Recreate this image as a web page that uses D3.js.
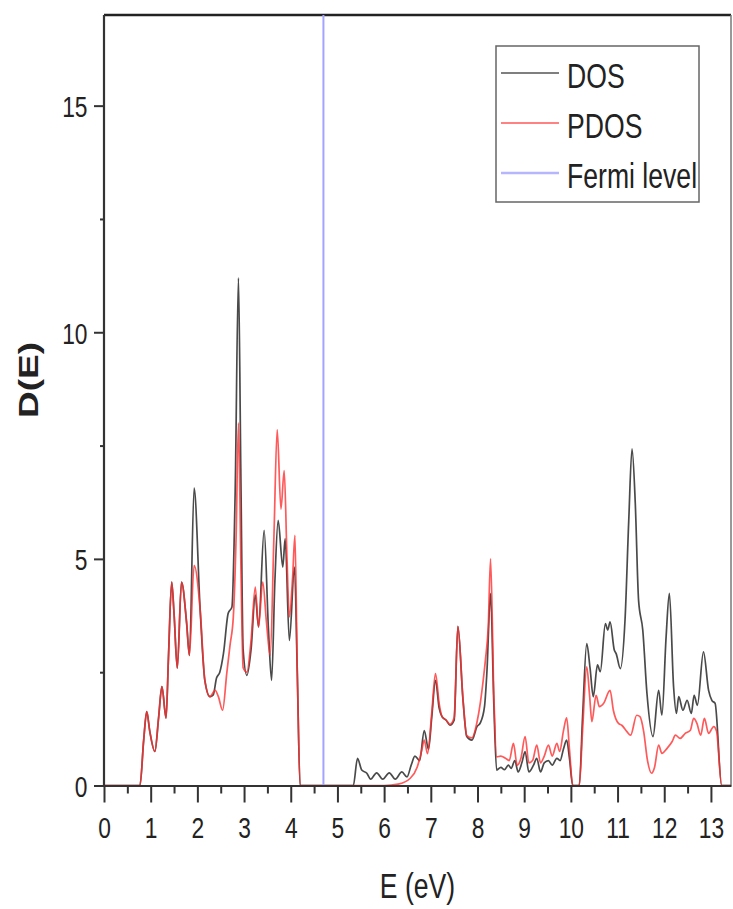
<!DOCTYPE html>
<html><head><meta charset="utf-8">
<script src="https://cdn.jsdelivr.net/npm/d3@7"></script>
<style>body{margin:0;background:#fff;} svg{display:block;}</style>
</head><body>
<script>
const dosE = [0,0.77,0.85,0.915,0.98,1.09,1.17,1.24,1.33,1.38,1.45,1.5,1.57,1.66,1.77,1.83,1.93,2.06,2.16,2.27,2.34,2.41,2.48,2.56,2.66,2.74,2.81,2.88,2.93,2.98,3.06,3.15,3.24,3.31,3.43,3.52,3.59,3.66,3.73,3.83,3.88,3.97,4.08,4.14,4.2,5.34,5.43,5.52,5.63,5.71,5.84,5.97,6.11,6.24,6.38,6.49,6.58,6.66,6.76,6.86,6.95,7.02,7.1,7.18,7.24,7.33,7.41,7.5,7.58,7.69,7.77,7.88,7.99,8.06,8.15,8.2,8.28,8.35,8.41,8.5,8.58,8.66,8.72,8.8,8.87,8.95,9.02,9.1,9.2,9.27,9.35,9.43,9.52,9.6,9.7,9.77,9.84,9.91,9.97,10.04,10.18,10.25,10.34,10.41,10.48,10.57,10.63,10.74,10.79,10.84,10.93,10.97,11.06,11.16,11.24,11.31,11.38,11.45,11.54,11.63,11.76,11.88,11.95,12.04,12.11,12.2,12.26,12.31,12.4,12.49,12.58,12.64,12.71,12.84,12.95,13.02,13.09,13.23,13.43];
const dosV = [0,0,1.0,1.63,1.2,0.75,1.5,2.18,1.49,2.8,4.49,3.8,2.59,4.49,3.58,2.87,6.56,3.87,2.32,1.96,2.0,2.37,2.5,2.92,3.8,3.94,6.5,11.2,7.0,3.0,2.43,3.0,4.2,3.5,5.63,3.5,2.32,4.5,5.85,4.82,5.45,3.2,4.82,2.5,0,0,0.6,0.34,0.27,0.14,0.28,0.14,0.28,0.14,0.3,0.19,0.45,0.65,0.55,1.21,0.8,1.5,2.32,1.7,1.52,1.44,1.33,1.44,3.51,1.88,1.08,1.0,1.3,1.38,1.74,2.47,4.24,1.8,0.34,0.4,0.35,0.45,0.38,0.55,0.3,0.5,0.75,0.3,0.45,0.6,0.3,0.5,0.55,0.45,0.6,0.55,0.8,1.0,0.6,0,0,1.5,3.13,2.6,1.96,2.66,2.51,3.57,3.43,3.61,2.99,2.91,2.58,3.65,5.85,7.43,6.22,4.09,3.43,2.03,1.08,2.1,1.55,3.28,4.24,2.18,1.59,1.96,1.66,1.88,1.59,1.99,1.77,2.95,2.1,1.88,1.81,0,0];
const pdosE = [0,0.77,0.85,0.915,0.98,1.09,1.17,1.24,1.33,1.38,1.45,1.5,1.57,1.66,1.77,1.83,1.93,2.06,2.16,2.27,2.38,2.45,2.54,2.63,2.7,2.77,2.83,2.88,2.93,2.98,3.06,3.15,3.24,3.31,3.4,3.48,3.56,3.64,3.71,3.79,3.86,3.92,3.97,4.04,4.09,4.14,4.21,6.0,6.3,6.56,6.71,6.8,6.86,6.93,7.02,7.1,7.18,7.24,7.33,7.41,7.5,7.58,7.69,7.77,7.88,7.99,8.06,8.12,8.17,8.23,8.28,8.35,8.41,8.5,8.6,8.68,8.77,8.85,8.93,9.02,9.1,9.18,9.27,9.35,9.43,9.52,9.6,9.7,9.76,9.84,9.91,9.97,10.04,10.18,10.25,10.34,10.4,10.45,10.54,10.61,10.7,10.84,10.91,11.02,11.09,11.2,11.28,11.41,11.48,11.56,11.64,11.73,11.79,11.88,11.95,12.06,12.17,12.24,12.34,12.45,12.56,12.63,12.7,12.78,12.86,12.95,13.06,13.12,13.23,13.43];
const pdosV = [0,0,1.0,1.63,1.2,0.75,1.5,2.18,1.49,2.8,4.49,3.8,2.59,4.49,3.58,2.87,4.86,3.87,2.32,1.96,2.1,1.96,1.66,2.48,3.1,3.72,5.5,8.0,5.0,2.6,2.5,3.2,4.38,3.5,4.49,3.6,2.87,5.5,7.85,6.1,6.95,5.0,3.72,4.6,5.52,2.5,0,0,0.03,0.16,0.41,0.75,1.0,0.7,1.6,2.47,1.8,1.52,1.44,1.35,1.5,3.51,1.9,1.1,1.05,1.4,1.82,2.3,2.77,3.5,5.0,2.0,0.63,0.65,0.6,0.55,0.93,0.45,0.6,1.08,0.5,0.55,0.89,0.5,0.65,0.89,0.65,0.93,0.75,1.2,1.49,0.8,0,0,1.2,2.62,2.0,1.41,1.99,1.74,1.81,2.1,1.66,1.37,1.33,1.19,1.11,1.55,1.52,1.19,0.56,0.27,0.39,0.89,0.71,0.82,0.97,1.11,1.04,1.15,1.22,1.48,1.37,1.11,1.48,1.15,1.3,1.2,0,0];
const fermiLevel = 4.7;
const xTicks = [0,1,2,3,4,5,6,7,8,9,10,11,12,13];
const yTicks = [0,5,10,15];
const legendLabels = ["DOS","PDOS","Fermi level"];
const colors = {DOS:"#2a2a2a", PDOS:"#ff3030", Fermi:"#a4a4ff"};

const W = 733, H = 909;
const L = 104, T = 15, R = 731, B = 785.5;
const sx = 0.76; // horizontal glyph compression of the reference
const font = "'Liberation Sans', Arial, sans-serif";

const svg = d3.select("body").append("svg").attr("width", W).attr("height", H);
const x = d3.scaleLinear().domain([0, 13.43]).range([L, R]);
const y = d3.scaleLinear().domain([0, 17]).range([B, T]);

// frame top / right
svg.append("line").attr("x1", L).attr("x2", R).attr("y1", T).attr("y2", T)
  .attr("stroke", "#222").attr("stroke-width", 2.5);
svg.append("line").attr("x1", R).attr("x2", R).attr("y1", T).attr("y2", B)
  .attr("stroke", "#777").attr("stroke-width", 1.5);

// curves
const line = d3.line().x(d => x(d[0])).y(d => y(d[1])).curve(d3.curveMonotoneX);
const dosData = dosE.map((e, i) => [e, dosV[i]]);
const pdosData = pdosE.map((e, i) => [e, pdosV[i]]);
svg.append("path").datum(dosData).attr("d", line).attr("fill", "none")
  .attr("stroke", colors.DOS).attr("stroke-width", 1.7).attr("stroke-opacity", 0.85);
svg.append("path").datum(pdosData).attr("d", line).attr("fill", "none")
  .attr("stroke", colors.PDOS).attr("stroke-width", 1.7).attr("stroke-opacity", 0.8);

// fermi level
svg.append("line").attr("x1", x(fermiLevel)).attr("x2", x(fermiLevel)).attr("y1", T).attr("y2", B)
  .attr("stroke", colors.Fermi).attr("stroke-width", 2);

// x axis
const xMinor = d3.range(0.5, 13.5, 1);
svg.append("g").attr("transform", `translate(0,${B})`)
  .call(d3.axisBottom(x).tickValues(xMinor).tickSize(8).tickFormat(""))
  .call(g => { g.select(".domain").remove(); g.selectAll("line").attr("stroke", "#333").attr("stroke-width", 2); });
const gx = svg.append("g").attr("transform", `translate(0,${B})`)
  .call(d3.axisBottom(x).tickValues(xTicks).tickSize(17).tickPadding(14).tickSizeOuter(0).tickFormat(d3.format("d")));
gx.select(".domain").attr("stroke", "#333").attr("stroke-width", 2.2);
gx.selectAll("line").attr("stroke", "#333").attr("stroke-width", 2);
gx.selectAll("text").attr("font-family", font).attr("font-size", 30).attr("fill", "#222")
  .attr("transform", `scale(${sx},1)`);

// y axis
svg.append("g").attr("transform", `translate(${L},0)`)
  .call(d3.axisLeft(y).tickValues([2.5, 7.5, 12.5]).tickSize(4).tickFormat(""))
  .call(g => { g.select(".domain").remove(); g.selectAll("line").attr("stroke", "#333").attr("stroke-width", 2); });
const gy = svg.append("g").attr("transform", `translate(${L},0)`)
  .call(d3.axisLeft(y).tickValues(yTicks).tickSize(10).tickPadding(6).tickSizeOuter(0));
gy.select(".domain").attr("stroke", "#333").attr("stroke-width", 2.2).attr("d", `M0,${T}V${B}`);
gy.selectAll("line").attr("stroke", "#333").attr("stroke-width", 2);
gy.selectAll("text").attr("font-family", font).attr("font-size", 30).attr("fill", "#222")
  .attr("x", -16.5 / sx).attr("dy", "0.36em").attr("transform", `scale(${sx},1)`);

// axis titles
svg.append("text").attr("transform", `translate(${(L + R) / 2},898) scale(${sx},1)`)
  .attr("text-anchor", "middle").attr("font-family", font).attr("font-size", 35).attr("fill", "#222")
  .text("E (eV)");
svg.append("text").attr("transform", `translate(38,380) scale(${sx},1) rotate(-90)`)
  .attr("text-anchor", "middle").attr("font-family", font).attr("font-size", 37).attr("font-weight", "bold").attr("fill", "#222")
  .text("D(E)");

// legend
const lg = svg.append("g");
lg.append("rect").attr("x", 496).attr("y", 46).attr("width", 203).attr("height", 156)
  .attr("fill", "#fff").attr("stroke", "#666").attr("stroke-width", 1.5);
const lcol = [colors.DOS, colors.PDOS, colors.Fermi];
legendLabels.forEach((lab, i) => {
  const yy = 73 + i * 50;
  lg.append("line").attr("x1", 501).attr("x2", 559).attr("y1", yy).attr("y2", yy)
    .attr("stroke", lcol[i]).attr("stroke-width", i === 2 ? 2.5 : 1.6).attr("stroke-opacity", 0.8);
  lg.append("text").attr("transform", `translate(567,${yy + 15}) scale(${sx},1)`)
    .attr("font-family", font).attr("font-size", 35).attr("fill", "#222").text(lab);
});
</script>
</body></html>
